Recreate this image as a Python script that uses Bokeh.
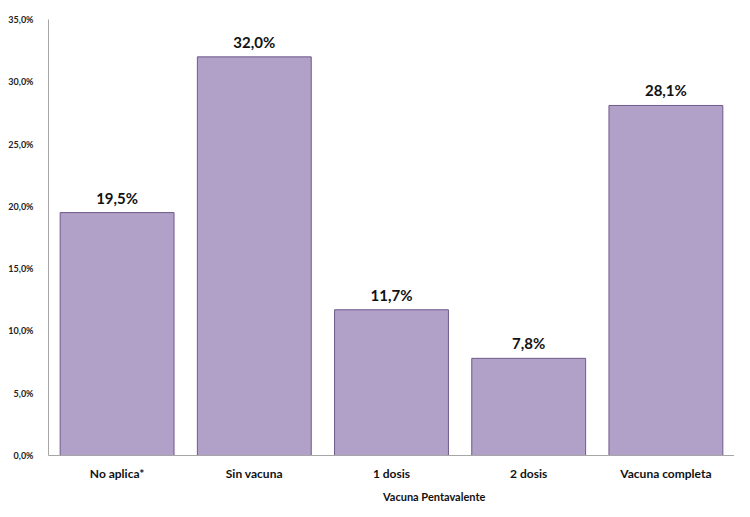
from bokeh.plotting import figure
from bokeh.layouts import column
from bokeh.models import ColumnDataSource, FixedTicker, Range1d, Legend, LegendItem
from bokeh.core.properties import value
from bokeh.embed import file_html
from bokeh.resources import INLINE

categories = ["No aplica*", "Sin vacuna", "1 dosis", "2 dosis", "Vacuna completa"]
values = [19.5, 32.0, 11.7, 7.8, 28.1]
labels = ["19,5%", "32,0%", "11,7%", "7,8%", "28,1%"]
y_ticks = [0, 5, 10, 15, 20, 25, 30, 35]
series_name = "Vacuna Pentavalente"

source = ColumnDataSource(dict(cat=categories, val=values, lab=labels))

p = figure(x_range=categories, y_range=Range1d(0, 35), frame_width=686, frame_height=436,
           output_backend="svg", toolbar_location=None,
           min_border_left=48, min_border_top=19, min_border_right=0, min_border_bottom=0)

p.vbar(x="cat", top="val", width=0.83, source=source,
       fill_color="#B1A0C7", line_color="#6E5A8A", line_width=1)

p.text(x="cat", y="val", text="lab", source=source, text_align="center",
       text_baseline="bottom", y_offset=-6, text_font_size="15px",
       text_font_style="bold", text_color="#111111", text_font=value("Lato"))

p.yaxis.ticker = FixedTicker(ticks=y_ticks)
p.yaxis.major_label_overrides = {t: f"{t:.1f}".replace(".", ",") + "%" for t in y_ticks}
p.yaxis.major_label_text_font = "Lato"
p.yaxis.major_label_text_font_size = "9px"
p.yaxis.major_label_text_font_style = "bold"
p.yaxis.major_label_text_color = "#222222"
p.yaxis.major_label_standoff = 9
p.yaxis.major_tick_line_color = None
p.yaxis.minor_tick_line_color = None
p.yaxis.axis_line_color = "#A6A6A6"

p.xaxis.major_label_text_font = "Lato"
p.xaxis.major_label_text_font_size = "12px"
p.xaxis.major_label_text_font_style = "bold"
p.xaxis.major_label_text_color = "#111111"
p.xaxis.major_label_standoff = 10
p.xaxis.major_tick_line_color = None
p.xaxis.major_tick_out = 0
p.xaxis.axis_line_color = "#A6A6A6"

p.xgrid.grid_line_color = None
p.ygrid.grid_line_color = None
p.outline_line_color = None

# small strip below the chart that only holds the legend
leg = figure(width=734, height=22, x_range=Range1d(0, 1), y_range=Range1d(0, 1),
             output_backend="svg", toolbar_location=None,
             min_border_left=0, min_border_right=0, min_border_top=0, min_border_bottom=0)
swatch = leg.vbar(x=[], top=[], width=0.1,
                  fill_color="#B1A0C7", line_color="#6E5A8A", line_width=1)
leg.axis.visible = False
leg.grid.grid_line_color = None
leg.outline_line_color = None

legend = Legend(items=[LegendItem(label=series_name, renderers=[swatch])],
                orientation="horizontal", location=(322, 2),
                label_text_font="Lato", label_text_font_size="11px",
                label_text_font_style="bold", label_text_color="#111111",
                glyph_width=10, glyph_height=10, label_standoff=3,
                label_height=12, padding=0, margin=0, border_line_color=None,
                background_fill_alpha=0)
leg.add_layout(legend, "center")

layout = column(p, leg, spacing=0)

open("out.html", "w").write(file_html(layout, INLINE))
